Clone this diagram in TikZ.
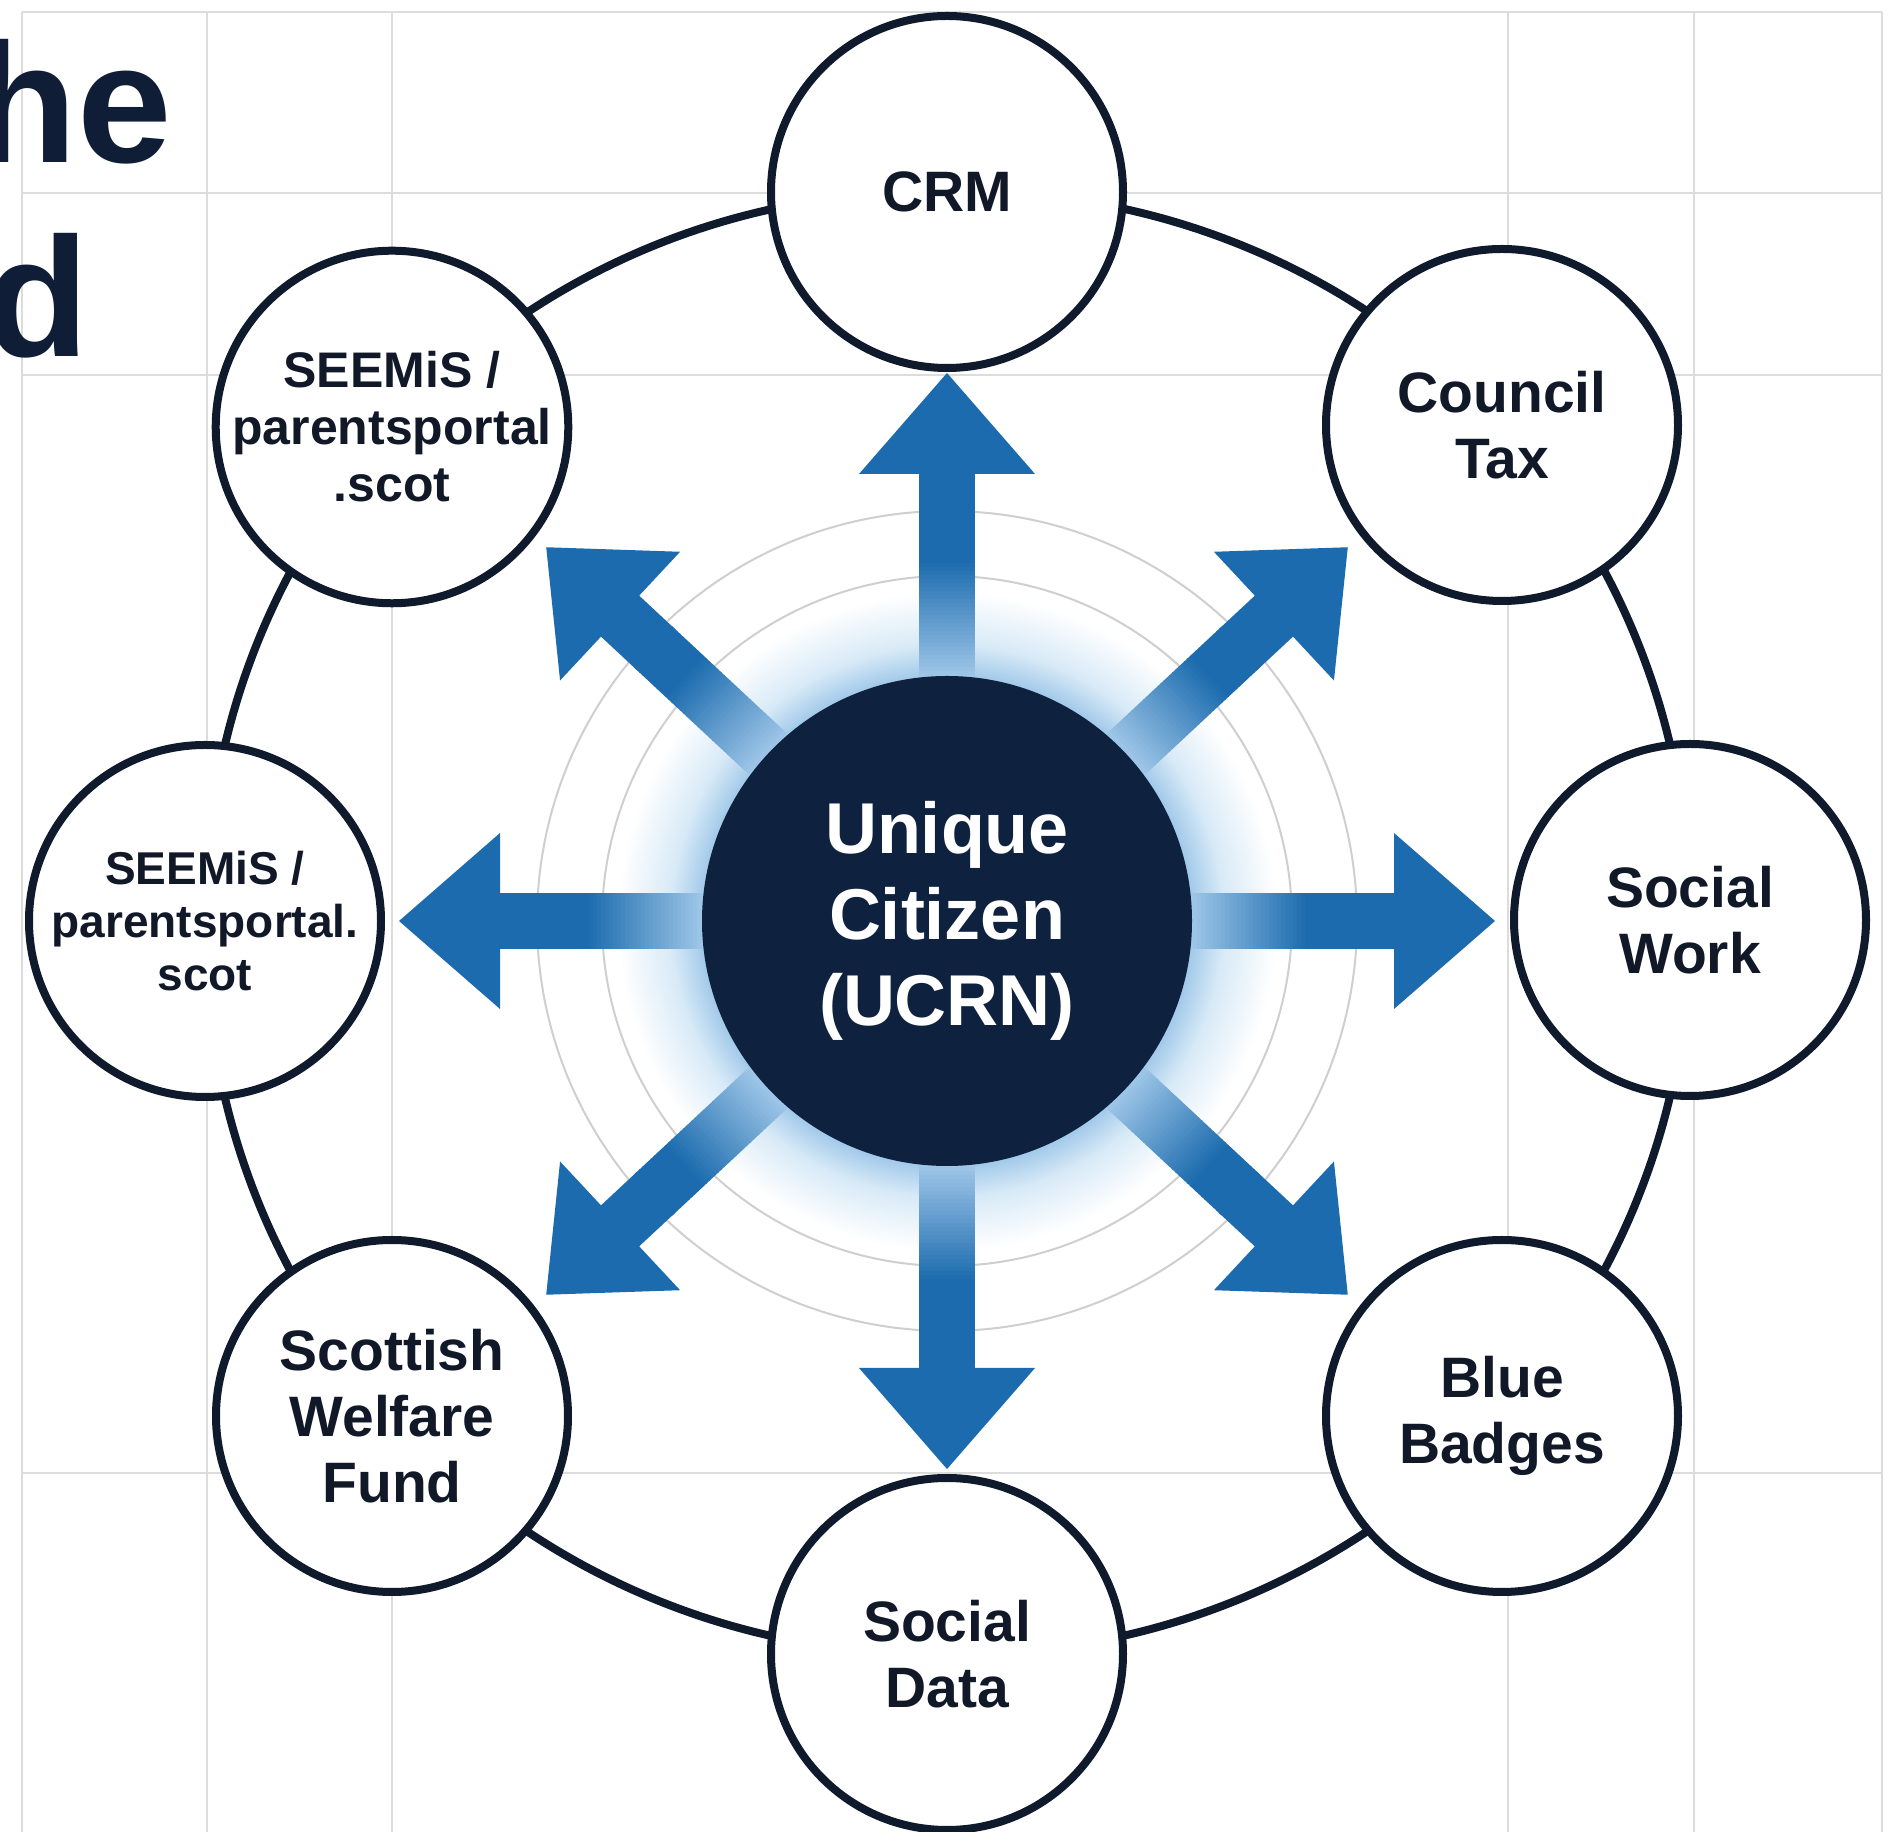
\documentclass[tikz,border=0pt]{standalone}
\usepackage{fontspec}
\setmainfont{Liberation Sans}
\definecolor{navy}{HTML}{0E2240}
\definecolor{titlec}{HTML}{0F1E36}
\definecolor{ink}{HTML}{111827}
\definecolor{ringc}{HTML}{0F1A2C}
\definecolor{gridc}{HTML}{DCDCDC}
\definecolor{concc}{HTML}{CFCFCF}
\definecolor{arrowblue}{HTML}{1B6BAE}
\definecolor{paleblue}{HTML}{A4CAEA}
\definecolor{glowA}{HTML}{A3CAEA}
\definecolor{glowB}{HTML}{D8EAF7}
\pgfdeclarelayer{background}
\pgfsetlayers{background,main}
\pgfdeclareradialshading{glowshade}{\pgfpoint{0bp}{0bp}}{color(0bp)=(glowA); color(18.6bp)=(glowA); color(21bp)=(glowB); color(25bp)=(white); color(50bp)=(white)}
\tikzset{
  sat/.style={circle, draw=ringc, line width=8pt, fill=white, minimum size=352pt,
    inner sep=0pt, align=center, text=ink, font=\fontsize{57}{66}\selectfont\bfseries},
  satsmall/.style={sat, font=\fontsize{50}{57}\selectfont\bfseries},
  satsmaller/.style={sat, font=\fontsize{46}{53}\selectfont\bfseries},
  hub/.style={circle, fill=navy, minimum size=490pt, inner sep=0pt, align=center,
    text=white, font=\fontsize{72}{86}\selectfont\bfseries},
  gridline/.style={draw=gridc, line width=2pt},
  concline/.style={draw=concc, line width=2pt},
  ringline/.style={draw=ringc, line width=8pt},
  titletext/.style={inner sep=0pt, text=titlec, font=\fontsize{170}{170}\selectfont\bfseries}
}
\newcommand{\rayarrow}[1]{%
  \begin{scope}[shift={(hubc)}, rotate=#1]
    \foreach \kk in {0,...,40}{%
      \pgfmathsetmacro{\rA}{238+4*\kk}%
      \pgfmathsetmacro{\rB}{243+4*\kk}%
      \pgfmathsetmacro{\pp}{min(100,\kk*100/30)}%
      \fill[arrowblue!\pp!paleblue] (\rA,-28) rectangle (\rB,28);}
    \fill[arrowblue] (397,-28) rectangle (450,28);
    \fill[arrowblue] (447,-88) -- (548,0) -- (447,88) -- cycle;
  \end{scope}}
\begin{document}
\begin{tikzpicture}[x=1pt,y=1pt]
\useasboundingbox (0,0) rectangle (1891,1832);
\coordinate (hubc) at (947,911);

% satellites
\node[sat] (crm) at (947,1640) {CRM};
\node[sat] (ctax) at (1502,1407) {Council\\Tax};
\node[sat] (swork) at (1690,912) {Social\\Work};
\node[sat] (bbadge) at (1502,416) {Blue\\Badges};
\node[sat] (sdata) at (947,178) {Social\\Data};
\node[sat] (swf) at (392,416) {Scottish\\Welfare\\Fund};
\node[satsmaller] (seemisl) at (205,911) {SEEMiS /\\parentsportal.\\scot};
\node[satsmall] (seemisu) at (392,1405) {SEEMiS /\\parentsportal\\.scot};

% hub
\node[hub] (ucrn) at (hubc) {Unique\\Citizen\\(UCRN)};

% partial title text
\node[titletext, anchor=base east] (tline1) at (172,1669) {he};
\node[titletext, anchor=base east] (tline2) at (90,1475) {d};

\begin{pgfonlayer}{background}
  \fill[white] (0,0) rectangle (1891,1832);
  % grid
  \foreach \gx in {22,207,392,1508,1694,1882}
    {\draw[gridline] (\gx,0) -- (\gx,1820);}
  \foreach \gy in {1820,1639,1457,359}
    {\draw[gridline] (22,\gy) -- (1882,\gy);}
  % concentric rings
  \draw[concline] (hubc) circle (345);
  \draw[concline] (hubc) circle (410);
  % glow
  \shade[shading=glowshade] (hubc) circle (330);
  % arrows
  \rayarrow{0}
  \rayarrow{90}
  \rayarrow{180}
  \rayarrow{270}
  \rayarrow{43}
  \rayarrow{137}
  \rayarrow{223}
  \rayarrow{317}
  % ring connectors
  \draw[ringline] (crm.center) to[bend left=24.1, looseness=0.9] (ctax.center);
  \draw[ringline] (ctax.center) to[bend left=20.9, looseness=0.9] (swork.center);
  \draw[ringline] (swork.center) to[bend left=20.9, looseness=0.9] (bbadge.center);
  \draw[ringline] (bbadge.center) to[bend left=24.1, looseness=0.9] (sdata.center);
  \draw[ringline] (sdata.center) to[bend left=24.1, looseness=0.9] (swf.center);
  \draw[ringline] (swf.center) to[bend left=20.9, looseness=0.9] (seemisl.center);
  \draw[ringline] (seemisl.center) to[bend left=20.9, looseness=0.9] (seemisu.center);
  \draw[ringline] (seemisu.center) to[bend left=24.1, looseness=0.9] (crm.center);
\end{pgfonlayer}
\end{tikzpicture}
\end{document}
